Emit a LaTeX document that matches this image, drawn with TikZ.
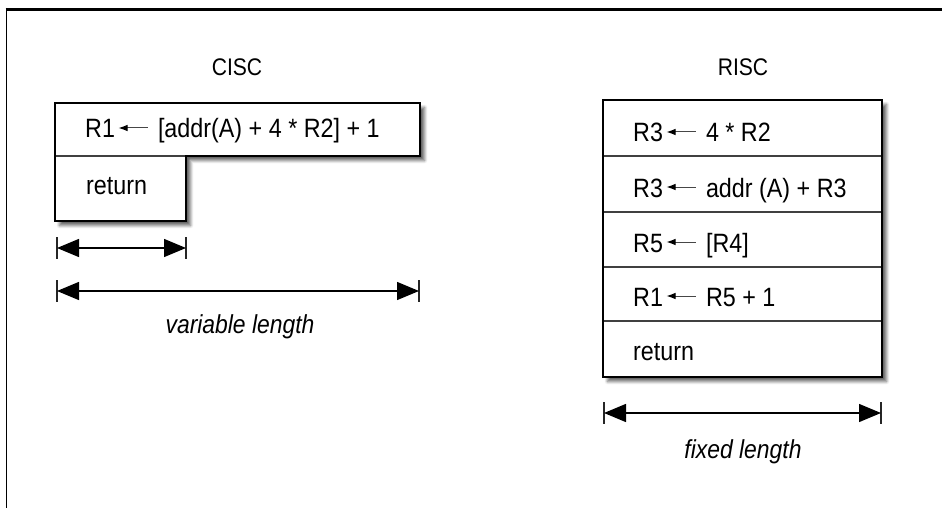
\documentclass[tikz,border=0pt]{standalone}
\usepackage{fontspec}
\setmainfont{Liberation Sans}[FakeStretch=0.88]
\usetikzlibrary{arrows.meta,shadows.blur}
\newcommand\asgn{\hspace{3pt}\tikz[baseline=-10pt]\draw[gray!55!black,line width=1pt,{Latex[length=9pt,width=6.5pt,black]}-] (0pt,0pt) -- (29pt,0pt);\hspace{10pt}}
\tikzset{
  codetxt/.style={anchor=base west,inner sep=0pt,font=\fontsize{26.5}{30}\selectfont},
  titletxt/.style={anchor=base,inner sep=0pt,font=\fontsize{24}{28}\selectfont},
  captxt/.style={anchor=base,inner sep=0pt,font=\fontsize{26}{30}\selectfont\itshape},
  outline/.style={line width=2.8pt,line join=miter},
  divider/.style={line width=1.3pt,black!75},
  dimarrow/.style={line width=1.4pt,{Triangle[length=22pt,width=18pt]}-{Triangle[length=22pt,width=18pt]}},
  tick/.style={line width=1.3pt,black!85},
  shade/.style={blur shadow={shadow xshift=4.5pt,shadow yshift=-4.5pt,shadow blur steps=6,shadow blur radius=3pt,shadow opacity=60}}
}
\begin{document}
\begin{tikzpicture}[x=1pt,y=-1pt]
\useasboundingbox (0,0) rectangle (942,508);
% frame
\draw[line width=1.8pt] (6.5,8) -- (6.5,508);
\draw[line width=2.8pt] (5.6,9.4) -- (942,9.4);

% titles
\node[titletxt] (cisct) at (237,76) {CISC};
\node[titletxt] (risct) at (743,76) {RISC};

% CISC box
\path[shade,fill=white] (55,103) -- (420,103) -- (420,156) -- (186,156) -- (186,221) -- (55,221) -- cycle;
\draw[divider] (55,156) -- (186,156);
\draw[outline] (55,103) -- (420,103) -- (420,156) -- (186,156) -- (186,221) -- (55,221) -- cycle;
\node[codetxt] (c1) at (85,138) {R1\asgn[addr(A) + 4 * R2] + 1};
\node[codetxt] (c2) at (86,194) {return};

% CISC dimension arrows
\coordinate (s1) at (57,248);
\coordinate (s2) at (186,248);
\coordinate (l1) at (57,291);
\coordinate (l2) at (419,291);
\draw[tick] (57,237) -- (57,259);
\draw[tick] (186,237) -- (186,259);
\draw[tick] (57,280) -- (57,302);
\draw[tick] (419,280) -- (419,302);
\draw[dimarrow] (s1) -- (s2);
\draw[dimarrow] (l1) -- (l2);
\node[captxt] (vl) at (240,333) {variable length};

% RISC box
\path[shade,fill=white] (603,100) rectangle (882,377);
\draw[divider] (603,156) -- (882,156);
\draw[divider] (603,212) -- (882,212);
\draw[divider] (603,267) -- (882,267);
\draw[divider] (603,321) -- (882,321);
\draw[outline] (603,100) rectangle (882,377);
\node[codetxt] (r1) at (633,142) {R3\asgn 4 * R2};
\node[codetxt] (r2) at (633,197) {R3\asgn addr (A) + R3};
\node[codetxt] (r3) at (633,252) {R5\asgn [R4]};
\node[codetxt] (r4) at (633,306) {R1\asgn R5 + 1};
\node[codetxt] (r5) at (633,360) {return};

% RISC dimension arrow
\coordinate (f1) at (604,413);
\coordinate (f2) at (881,413);
\draw[tick] (604,402) -- (604,424);
\draw[tick] (881,402) -- (881,424);
\draw[dimarrow] (f1) -- (f2);
\node[captxt] (fl) at (743,458) {fixed length};
\end{tikzpicture}
\end{document}
